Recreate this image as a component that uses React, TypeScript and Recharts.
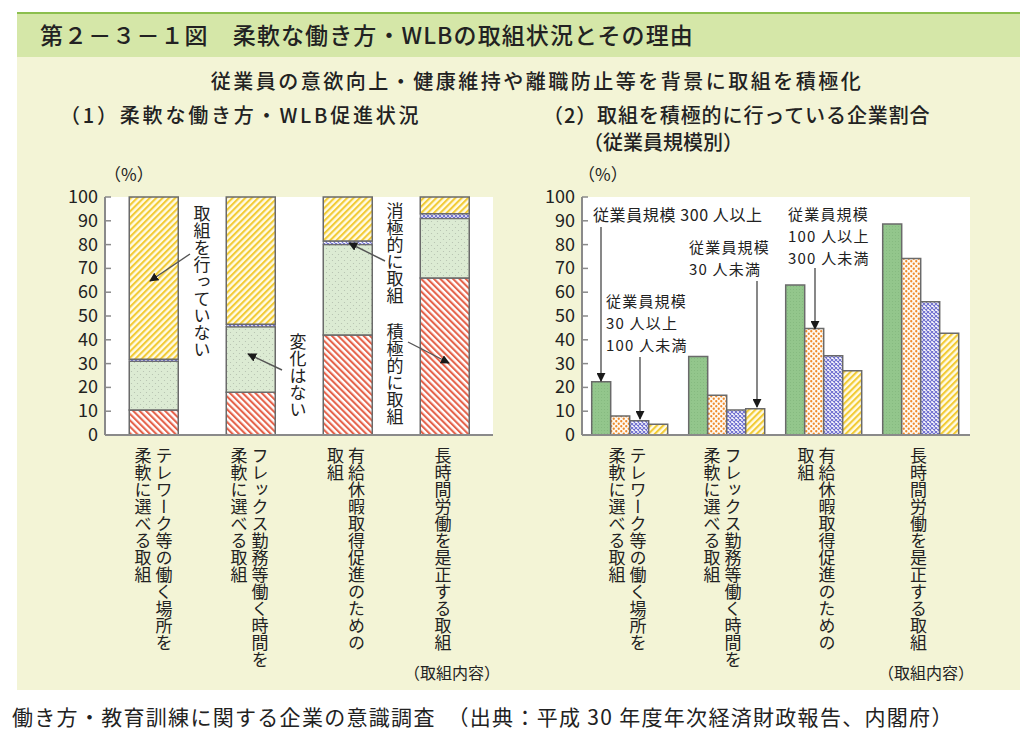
import React from 'react'
import { BarChart, Bar, XAxis, YAxis, CartesianGrid } from 'recharts'

// categories (取組内容)
const categories = ['telework', 'flex', 'paidLeave', 'overtime']
const categoryLines = [
  ['テレワーク等の働く場所を', '柔軟に選べる取組'],
  ['フレックス勤務等働く時間を', '柔軟に選べる取組'],
  ['有給休暇取得促進のための', '取組'],
  ['長時間労働を是正する取組'],
]
const yTicks = [0, 10, 20, 30, 40, 50, 60, 70, 80, 90, 100]

// (1) 柔軟な働き方・WLB促進状況 (%)
const positive = [10.5, 18, 42, 66]
const noChange = [20.5, 27.5, 38, 25]
const negative = [0.8, 1, 1.5, 2]
const notDoing = [68.2, 53.5, 18.5, 7]

// (2) 取組を積極的に行っている企業割合 (%)
const size300plus = [22.4, 33, 63, 88.7]
const size100to300 = [8, 16.7, 44.8, 74.2]
const size30to100 = [6, 10.5, 33.3, 56]
const sizeUnder30 = [4.5, 11, 27, 42.7]

const leftData = categories.map((cat, i) => ({
  cat,
  positive: positive[i],
  noChange: noChange[i],
  negative: negative[i],
  notDoing: notDoing[i],
}))

const rightData = categories.map((cat, i) => ({
  cat,
  s300: size300plus[i],
  s100: size100to300[i],
  s30: size30to100[i],
  s0: sizeUnder30[i],
}))

const JP = '"Noto Sans CJK JP", "Noto Sans", sans-serif'
const INK = '#222'
const BORDER = '#8a8a8a'
const BAR_STROKE = '#6a6a6a'

const YTick = ({ x, y, payload }: any) => (
  <g>
    <line x1={x + 7} x2={x + 13} y1={y} y2={y} stroke={BORDER} strokeWidth={1.5} />
    <text x={x} y={y} dy={6} textAnchor="end" fontSize={18} fill={INK} fontFamily={JP}>
      {payload.value}
    </text>
  </g>
)

const makeXTick = (shift: number[]) => ({ x, y, payload }: any) => {
  const i = categories.indexOf(payload.value)
  const lines = categoryLines[i] || []
  const cx = x + shift[i]
  const cols = lines.length === 1 ? [cx] : [cx + 10.5, cx - 10.5]
  return (
    <g>
      {lines.map((line, k) => (
        <text
          key={k}
          x={cols[k]}
          y={y + 12}
          fontSize={17}
          fill={INK}
          fontFamily={JP}
          style={{ writingMode: 'vertical-rl' } as any}
        >
          {line}
        </text>
      ))}
    </g>
  )
}

const LeftXTick = makeXTick([0, -1, -1.5, -1.5])
const RightXTick = makeXTick([-3, -5, -8, -3])

const Patterns = () => (
  <svg width={0} height={0} style={{ position: 'absolute' }}>
    <defs>
      <pattern id="redStripe" width={4.5} height={4.5} patternUnits="userSpaceOnUse" patternTransform="rotate(-45)">
        <rect width={4.5} height={4.5} fill="#fff" />
        <line x1={1} y1={0} x2={1} y2={4.5} stroke="#e5634b" strokeWidth={2.2} />
      </pattern>
      <pattern id="yellowStripe" width={4.5} height={4.5} patternUnits="userSpaceOnUse" patternTransform="rotate(45)">
        <rect width={4.5} height={4.5} fill="#fffbe6" />
        <line x1={1} y1={0} x2={1} y2={4.5} stroke="#f2cb36" strokeWidth={2.2} />
      </pattern>
      <pattern id="greenDots" width={6} height={6} patternUnits="userSpaceOnUse">
        <rect width={6} height={6} fill="#dcebd3" />
        <circle cx={1.5} cy={1.5} r={0.6} fill="#b3bfae" />
        <circle cx={4.5} cy={4.5} r={0.6} fill="#b3bfae" />
      </pattern>
      <pattern id="blueHatch" width={4} height={4} patternUnits="userSpaceOnUse">
        <rect width={4} height={4} fill="#fff" />
        <path d="M0,0 L4,4 M4,0 L0,4" stroke="#6f6fcf" strokeWidth={1.1} />
      </pattern>
      <pattern id="orangeDots" width={5} height={5} patternUnits="userSpaceOnUse">
        <rect width={5} height={5} fill="#fffaf2" />
        <circle cx={1.25} cy={1.25} r={1.15} fill="#ef8a2a" />
        <circle cx={3.75} cy={3.75} r={1.15} fill="#ef8a2a" />
      </pattern>
      <pattern id="greenSolid" width={3} height={3} patternUnits="userSpaceOnUse">
        <rect width={3} height={3} fill="#93c68c" />
        <rect width={1} height={1} fill="#86ba80" />
      </pattern>
      <marker id="arrowHead" viewBox="0 0 10 10" refX={9} refY={5} markerWidth={9} markerHeight={9} orient="auto-start-reverse" markerUnits="userSpaceOnUse">
        <path d="M0,0 L10,5 L0,10 z" fill="#1a1a1a" />
      </marker>
    </defs>
  </svg>
)

const frameAxes = (
  <>
    <XAxis xAxisId="top" orientation="top" dataKey="cat" tick={false} tickLine={false} height={0} axisLine={{ stroke: BORDER, strokeWidth: 2 }} />
    <YAxis yAxisId="right" orientation="right" domain={[0, 100]} tick={false} tickLine={false} width={0} axisLine={{ stroke: BORDER, strokeWidth: 2 }} />
  </>
)

function LeftChart() {
  return (
    <BarChart
      width={480}
      height={530}
      data={leftData}
      margin={{ top: 37, right: 27, left: 0, bottom: 0 }}
      barCategoryGap="25%"
    >
      <CartesianGrid horizontal={false} vertical={false} fill="#fff" />
      <XAxis dataKey="cat" height={255} tickSize={0} tickMargin={0} interval={0} tick={LeftXTick} axisLine={{ stroke: BORDER, strokeWidth: 2 }} />
      <YAxis domain={[0, 100]} ticks={yTicks} interval={0} width={65} tickSize={0} tickMargin={7} tick={YTick} axisLine={{ stroke: BORDER, strokeWidth: 2 }} />
      {frameAxes}
      <Bar dataKey="positive" stackId="a" fill="url(#redStripe)" stroke={BAR_STROKE} strokeWidth={1.5} isAnimationActive={false} />
      <Bar dataKey="noChange" stackId="a" fill="url(#greenDots)" stroke={BAR_STROKE} strokeWidth={1.5} isAnimationActive={false} />
      <Bar dataKey="negative" stackId="a" fill="url(#blueHatch)" stroke={BAR_STROKE} strokeWidth={1} isAnimationActive={false} />
      <Bar dataKey="notDoing" stackId="a" fill="url(#yellowStripe)" stroke={BAR_STROKE} strokeWidth={1.5} isAnimationActive={false} />
    </BarChart>
  )
}

function RightChart() {
  return (
    <BarChart
      width={480}
      height={530}
      data={rightData}
      margin={{ top: 37, right: 30, left: 0, bottom: 0 }}
      barCategoryGap="10%"
      barGap={0}
    >
      <CartesianGrid horizontal={false} vertical={false} fill="#fff" />
      <XAxis dataKey="cat" height={255} tickSize={0} tickMargin={0} interval={0} tick={RightXTick} axisLine={{ stroke: BORDER, strokeWidth: 2 }} />
      <YAxis domain={[0, 100]} ticks={yTicks} interval={0} width={62} tickSize={0} tickMargin={7} tick={YTick} axisLine={{ stroke: BORDER, strokeWidth: 2 }} />
      {frameAxes}
      <Bar dataKey="s300" fill="url(#greenSolid)" stroke={BAR_STROKE} strokeWidth={1.5} isAnimationActive={false} />
      <Bar dataKey="s100" fill="url(#orangeDots)" stroke={BAR_STROKE} strokeWidth={1.5} isAnimationActive={false} />
      <Bar dataKey="s30" fill="url(#blueHatch)" stroke={BAR_STROKE} strokeWidth={1.5} isAnimationActive={false} />
      <Bar dataKey="s0" fill="url(#yellowStripe)" stroke={BAR_STROKE} strokeWidth={1.5} isAnimationActive={false} />
    </BarChart>
  )
}

const vText = (x: number, y: number, s: string, key: string) => (
  <text key={key} x={x} y={y} fontSize={17} fill={INK} fontFamily={JP} style={{ writingMode: 'vertical-rl' } as any}>
    {s}
  </text>
)

const hText = (x: number, y: number, s: string, key: string, size = 16, ls = 0.6) => (
  <text key={key} x={x} y={y} fontSize={size} fill={INK} fontFamily={JP} letterSpacing={ls}>
    {s}
  </text>
)

// one text element with several lines stacked 22px apart
const multiText = (x: number, y: number, lines: string[], key: string) => (
  <text key={key} x={x} y={y} fontSize={15} fill={INK} fontFamily={JP} letterSpacing={1.2}>
    {lines.map((l, k) => (
      <tspan key={k} x={x} dy={k === 0 ? 0 : 22}>
        {l}
      </tspan>
    ))}
  </text>
)

const arrow = (x1: number, y1: number, x2: number, y2: number, key: string) => (
  <line key={key} x1={x1} y1={y1} x2={x2} y2={y2} stroke="#555" strokeWidth={1.4} markerEnd="url(#arrowHead)" />
)

function Overlay() {
  return (
    <svg width={1025} height={740} style={{ position: 'absolute', left: 0, top: 0, pointerEvents: 'none' }}>
      <text x={40} y={44} fontSize={23} fill={INK} fontFamily={JP} fontWeight={500} letterSpacing={1.1}>
        第２－３－１図　柔軟な働き方・WLBの取組状況とその理由
      </text>
      <text x={537} y={89} fontSize={20} fill={INK} fontFamily={JP} fontWeight={500} textAnchor="middle" letterSpacing={2.5}>
        従業員の意欲向上・健康維持や離職防止等を背景に取組を積極化
      </text>
      <text x={60} y={123} fontSize={20} fill={INK} fontFamily={JP} fontWeight={500} letterSpacing={2.8}>
        （1）柔軟な働き方・WLB促進状況
      </text>
      <text x={543} y={123} fontSize={20} fill={INK} fontFamily={JP} fontWeight={500} letterSpacing={0.9}>
        （2）取組を積極的に行っている企業割合
      </text>
      <text x={583} y={150} fontSize={20} fill={INK} fontFamily={JP} fontWeight={500}>
        （従業員規模別）
      </text>
      {hText(104, 181, '（%）', 'pl', 17, 0)}
      {hText(578, 181, '（%）', 'pr', 17, 0)}
      {hText(404, 679, '（取組内容）', 'cl', 16, 0)}
      {hText(878, 679, '（取組内容）', 'cr', 16, 0)}

      {/* (1) annotations */}
      {vText(202, 205, '取組を行っていない', 'a1')}
      {vText(298, 333, '変化はない', 'a2')}
      {vText(395, 202, '消極的に取組', 'a3')}
      {vText(395, 323, '積極的に取組', 'a4')}
      {arrow(190, 254, 150, 281, 'r1')}
      {arrow(282, 370, 248, 354, 'r2')}
      {arrow(385, 261, 349, 243, 'r3')}
      {arrow(408, 342, 449, 363, 'r4')}

      {/* (2) annotations */}
      {hText(593, 221, '従業員規模 300 人以上', 'b1')}
      {multiText(606, 306.5, ['従業員規模', '30 人以上', '100 人未満'], 'b2')}
      {multiText(689, 253, ['従業員規模', '30 人未満'], 'b3')}
      {multiText(788, 219.5, ['従業員規模', '100 人以上', '300 人未満'], 'b4')}
      {arrow(601, 227, 601, 381, 's1')}
      {arrow(640, 357, 640, 419, 's2')}
      {arrow(757, 281, 757, 407, 's3')}
      {arrow(815, 268, 815, 329, 's4')}

      <text x={12} y={725} fontSize={21} fill={INK} fontFamily={JP} letterSpacing={1.3}>
        働き方・教育訓練に関する企業の意識調査　（出典：平成 30 年度年次経済財政報告、内閣府）
      </text>
    </svg>
  )
}

export default function App() {
  return (
    <div style={{ position: 'absolute', left: 0, top: 0, width: 1025, height: 740, background: '#fff', overflow: 'hidden' }}>
      <Patterns />
      <div style={{ position: 'absolute', left: 17, top: 12, width: 1003, height: 2, background: '#8cbf4e' }} />
      <div style={{ position: 'absolute', left: 17, top: 14, width: 1003, height: 43, background: '#d5e7a8' }} />
      <div style={{ position: 'absolute', left: 17, top: 57, width: 1003, height: 633, background: '#f3f4d6' }} />
      <div style={{ position: 'absolute', left: 40, top: 160 }}>
        <LeftChart />
      </div>
      <div style={{ position: 'absolute', left: 520, top: 160 }}>
        <RightChart />
      </div>
      <Overlay />
    </div>
  )
}
